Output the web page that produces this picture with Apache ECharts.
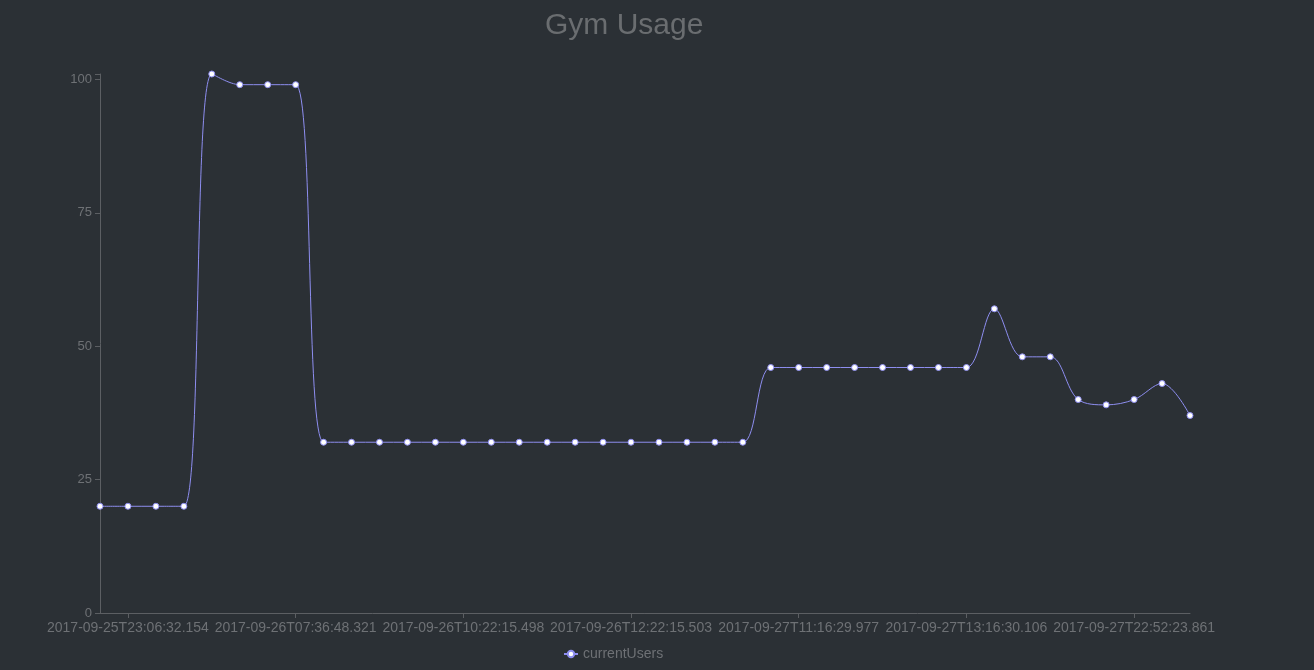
<!DOCTYPE html>
<html>
<head>
<meta charset="utf-8">
<script src="https://cdn.jsdelivr.net/npm/echarts@6/dist/echarts.min.js"></script>
<style>
html, body { margin: 0; padding: 0; background: #2b3035; }
#chart { width: 1314px; height: 670px; }
</style>
</head>
<body>
<div id="chart"></div>
<script>
// only the labelled timestamps are readable; the rest are left blank
var categories = [
	"", "2017-09-25T23:06:32.154", "", "", "", "", "",
	"2017-09-26T07:36:48.321", "", "", "", "", "",
	"2017-09-26T10:22:15.498", "", "", "", "", "",
	"2017-09-26T12:22:15.503", "", "", "", "", "",
	"2017-09-27T11:16:29.977", "", "", "", "", "",
	"2017-09-27T13:16:30.106", "", "", "", "", "",
	"2017-09-27T22:52:23.861", "", ""
];
var currentUsers = [
	20, 20, 20, 20, 101, 99, 99, 99,
	32, 32, 32, 32, 32, 32, 32, 32, 32, 32, 32, 32, 32, 32, 32, 32,
	46, 46, 46, 46, 46, 46, 46, 46,
	57, 48, 48, 40, 39, 40, 43, 37
];

var chart = echarts.init(document.getElementById("chart"));
var axisColor = "#5c5f63";
var labelColor = "#6e7175";
chart.setOption({
	backgroundColor: "#2b3035",
	title: {
		text: "Gym Usage",
		left: 540,
		top: 6,
		textStyle: { color: "#6a6d70", fontSize: 30, fontWeight: "normal", fontFamily: "Liberation Sans" }
	},
	legend: {
		left: 558,
		bottom: 4,
		itemWidth: 14,
		itemHeight: 8,
		textStyle: { color: labelColor, fontSize: 14, fontFamily: "Liberation Sans" },
		data: ["currentUsers"]
	},
	grid: { left: 100, right: 124, top: 74, bottom: 57 },
	xAxis: {
		type: "category",
		boundaryGap: false,
		data: categories,
		axisLine: { lineStyle: { color: axisColor } },
		axisTick: { interval: function (i) { return i % 6 === 1; }, lineStyle: { color: axisColor } },
		axisLabel: {
			interval: function (i) { return i % 6 === 1; },
			color: labelColor, fontSize: 14, fontFamily: "Liberation Sans"
		}
	},
	yAxis: {
		type: "value",
		min: 0,
		max: 101,
		interval: 25,
		splitLine: { show: false },
		axisLine: { show: true, lineStyle: { color: axisColor } },
		axisTick: { show: true, lineStyle: { color: axisColor } },
		axisLabel: {
			color: labelColor, fontSize: 13, fontFamily: "Liberation Sans",
			formatter: function (v) { return v % 25 === 0 ? v : ""; }
		}
	},
	series: [{
		name: "currentUsers",
		type: "line",
		smooth: 0.35,
		data: currentUsers,
		symbol: "circle",
		symbolSize: 6,
		lineStyle: { color: "#8e8ef0", width: 1 },
		itemStyle: { color: "#ffffff", borderColor: "#8e8ef0", borderWidth: 1 }
	}]
});
</script>
</body>
</html>
